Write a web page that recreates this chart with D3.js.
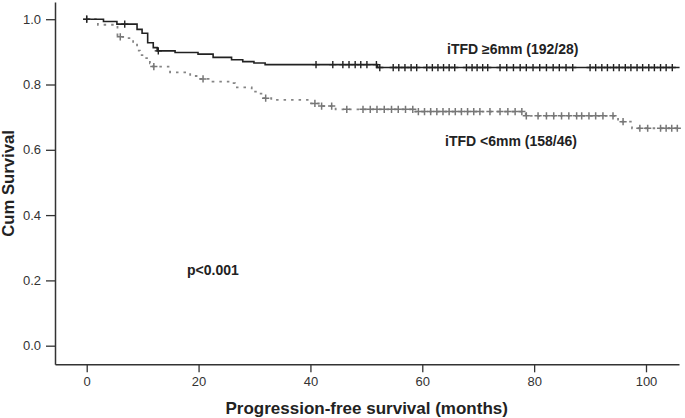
<!DOCTYPE html>
<html>
<head>
<meta charset="utf-8">
<script src="https://cdn.jsdelivr.net/npm/d3@7"></script>
<style>
  html, body { margin: 0; padding: 0; background: #fff; }
  svg { display: block; font-family: "Liberation Sans", Arial, sans-serif; }
</style>
</head>
<body>
<svg id="chart" width="685" height="418"></svg>
<script>
// ---- Data ----
// iTFD >= 6mm : survival step function
const hiTimes = [0, 3.0, 5.4, 9.0, 9.9, 10.9, 11.9, 12.6, 15.8, 19.9, 22.6, 25.9, 27.9, 29.9, 31.9, 52.0];
const hiSurv  = [1.0, 0.993, 0.985, 0.969, 0.957, 0.928, 0.913, 0.903, 0.898, 0.893, 0.883, 0.876, 0.870, 0.866, 0.861, 0.852];
const hiEnd = 106;
const hiCensored = [0, 6.8, 12.8, 41.0, 44.0, 45.8, 46.9, 48.0, 49.0, 50.1, 51.8, 52.4, 54.8, 55.8, 56.9, 58.0, 59.0,
  60.8, 61.8, 62.8, 63.8, 64.8, 65.8, 67.9, 68.9, 69.8, 70.8, 71.7, 73.9, 75.1, 76.3, 77.5, 78.6, 79.8, 81.0,
  82.2, 83.4, 84.5, 85.7, 86.9, 90.0, 91.0, 92.1, 93.1, 94.2, 95.2, 96.3, 97.3, 98.4, 99.4, 100.5, 101.5, 102.6, 103.6, 104.7];

// iTFD < 6mm : survival step function
const loTimes = [0, 2.0, 5.5, 6.9, 8.3, 9.0, 9.5, 10.4, 11.3, 11.9, 14.9, 18.5, 20.0, 22.5, 25.6, 26.5, 29.5, 30.5, 31.6, 33.0, 39.5, 41.5, 44.5, 58.5, 78.5, 95.0, 97.5];
const loSurv  = [1.0, 0.983, 0.946, 0.942, 0.926, 0.904, 0.890, 0.881, 0.865, 0.855, 0.837, 0.826, 0.817, 0.809, 0.804, 0.791, 0.778, 0.772, 0.758, 0.753, 0.742, 0.734, 0.724, 0.717, 0.704, 0.686, 0.666];
const loEnd = 106;
const loCensored = [0, 6.0, 12.0, 20.8, 32.0, 40.8, 42.0, 43.8, 46.5, 49.4, 50.7, 51.9, 53.2, 54.5, 55.7, 57.0, 58.3,
  59.3, 60.4, 61.5, 62.6, 63.7, 64.8, 65.9, 67.0, 68.1, 69.2, 70.3, 72.1, 73.9, 75.3, 76.6, 77.8, 78.6, 80.7,
  82.2, 83.5, 84.9, 86.2, 87.6, 88.5, 89.8, 91.0, 92.3, 94.1, 95.9, 98.9, 100.3, 102.6, 103.6, 104.6, 105.6];

const xTicks = [0, 20, 40, 60, 80, 100];
const yTicks = [0.0, 0.2, 0.4, 0.6, 0.8, 1.0];

const groupLabels = ["iTFD \u22656mm (192/28)", "iTFD <6mm (158/46)"];
const pLabel = "p<0.001";
const xTitle = "Progression-free survival (months)";
const yTitle = "Cum Survival";

// ---- Drawing ----
const svg = d3.select("#chart");
const x = d3.scaleLinear().domain([-5.67, 105.9]).range([55, 679]);
const y = d3.scaleLinear().domain([-0.057, 1.0527]).range([364.3, 2]);

const axisColor = "#333";

// axes
const gx = svg.append("g").attr("transform", "translate(0,364.3)")
  .call(d3.axisBottom(x).tickValues(xTicks).tickSize(8).tickSizeOuter(0).tickPadding(4).tickFormat(d3.format("d")));
const gy = svg.append("g").attr("transform", "translate(55,0)")
  .call(d3.axisLeft(y).tickValues(yTicks).tickSize(9).tickSizeOuter(0).tickPadding(5).tickFormat(d3.format(".1f")));
[gx, gy].forEach(g => {
  g.select(".domain").attr("stroke", axisColor).attr("stroke-width", 1.5);
  g.selectAll(".tick line").attr("stroke", axisColor).attr("stroke-width", 1.3);
  g.selectAll(".tick text").attr("fill", "#333").style("font-size", "13px")
    .style("font-family", "'Liberation Sans', Arial, sans-serif");
});

function stepData(times, surv, end) {
  const pts = times.map((t, i) => [t, surv[i]]);
  pts.push([end, surv[surv.length - 1]]);
  return pts;
}
function survAt(times, surv, t) {
  let s = surv[0];
  for (let i = 0; i < times.length; i++) if (times[i] <= t) s = surv[i];
  return s;
}

const line = d3.line().x(d => x(d[0])).y(d => y(d[1])).curve(d3.curveStepAfter);

// <6mm dotted
svg.append("path").datum(stepData(loTimes, loSurv, loEnd))
  .attr("d", line).attr("fill", "none").attr("stroke", "#858585")
  .attr("stroke-width", 1.8).attr("stroke-dasharray", "2.5,5");

// >=6mm solid
svg.append("path").datum(stepData(hiTimes, hiSurv, hiEnd))
  .attr("d", line).attr("fill", "none").attr("stroke", "#222")
  .attr("stroke-width", 1.6);

function plus(cx, cy, h) {
  return `M${cx - h},${cy}H${cx + h}M${cx},${cy - h}V${cy + h}`;
}
svg.append("g").selectAll("path").data(loCensored).join("path")
  .attr("d", t => plus(x(t), y(survAt(loTimes, loSurv, t)), 3.6))
  .attr("stroke", "#777").attr("stroke-width", 1.5).attr("fill", "none");
svg.append("g").selectAll("path").data(hiCensored).join("path")
  .attr("d", t => plus(x(t), y(survAt(hiTimes, hiSurv, t)), 3.6))
  .attr("stroke", "#222").attr("stroke-width", 1.4).attr("fill", "none");

// labels
svg.append("text").attr("x", 447).attr("y", 53.5).text(groupLabels[0])
  .style("font-size", "14px").style("font-weight", "bold").attr("fill", "#222");
svg.append("text").attr("x", 445).attr("y", 146).text(groupLabels[1])
  .style("font-size", "14px").style("font-weight", "bold").attr("fill", "#222");
svg.append("text").attr("x", 187).attr("y", 275).text(pLabel)
  .style("font-size", "14px").style("font-weight", "bold").attr("fill", "#222");

// axis titles
svg.append("text").attr("x", 366.7).attr("y", 413.5).attr("text-anchor", "middle").text(xTitle)
  .style("font-size", "17px").style("font-weight", "bold").attr("fill", "#222");
svg.append("text").attr("transform", "translate(13.5,183.5) rotate(-90)").attr("text-anchor", "middle").text(yTitle)
  .style("font-size", "16.7px").style("font-weight", "bold").attr("fill", "#222");
</script>
</body>
</html>
